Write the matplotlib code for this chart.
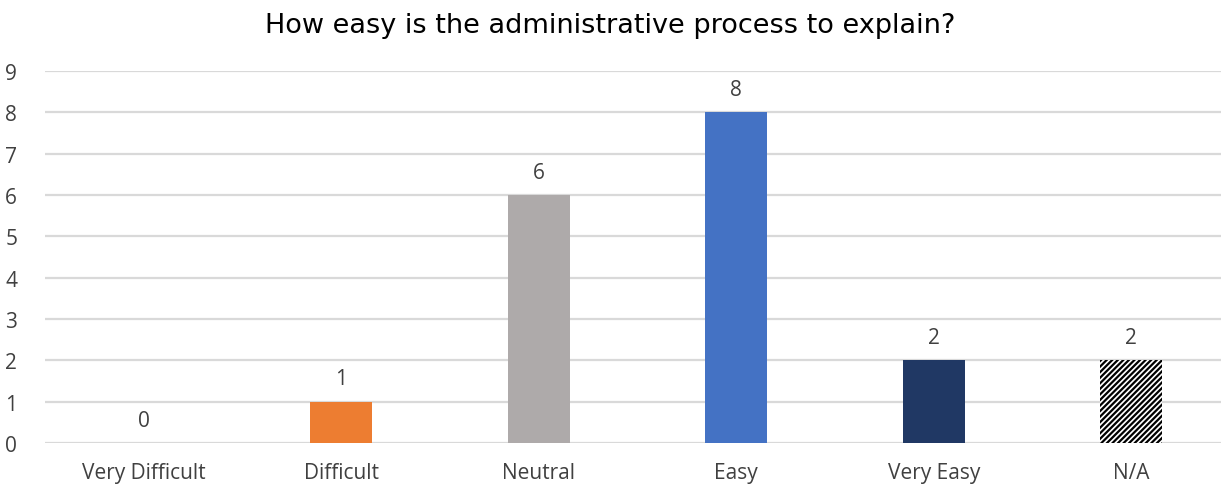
import matplotlib
matplotlib.use("Agg")
import matplotlib.pyplot as plt

# Chart data
categories = ["Very Difficult", "Difficult", "Neutral", "Easy", "Very Easy", "N/A"]
counts = [0, 1, 6, 8, 2, 2]
bar_colors = ["#5B9BD5", "#ED7D31", "#AEAAAA", "#4472C4", "#203864", "white"]
title = "How easy is the administrative process to explain?"

plt.rcParams['hatch.linewidth'] = 1.6
fig = plt.figure(figsize=(12.21, 4.85), dpi=100)
ax = fig.add_axes([45/1221, 1 - 444/485, 1185/1221, (444 - 72)/485])

x = range(len(categories))
bars = ax.bar(x, counts, width=0.315, color=bar_colors, zorder=3, linewidth=0)
# N/A bar drawn with black diagonal hatch
bars[-1].set_hatch("//////")
bars[-1].set_edgecolor("black")
bars[-1].set_linewidth(0)

for i, v in enumerate(counts):
    ax.text(i, v + 0.3, str(v), ha="center", va="bottom", fontsize=15,
            color="#404040", family="Open Sans")

ax.set_xlim(-0.5, len(categories) - 0.5)
ax.set_ylim(0, 9)
ax.set_yticks(range(10))
ax.set_xticks(list(x))
ax.set_xticklabels(categories)
ax.grid(axis="y", color="#D9D9D9", linewidth=1.6, zorder=0)
for s in ax.spines.values():
    s.set_visible(False)
ax.tick_params(axis="both", length=0, labelsize=15, labelcolor="#404040")
ax.tick_params(axis="y", pad=20)
ax.tick_params(axis="x", pad=14)
for lab in ax.get_xticklabels() + ax.get_yticklabels():
    lab.set_family("Open Sans")

fig.text(0.5, 1 - 26/485, title, ha="center", va="center", fontsize=19.5,
         color="black", family="DejaVu Sans")

plt.savefig("out.png", dpi=100)
